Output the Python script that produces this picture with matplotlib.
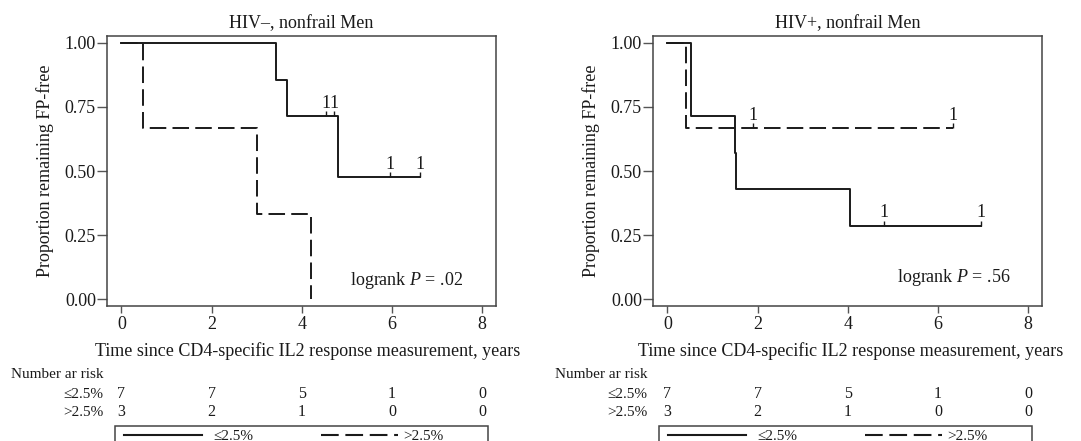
import numpy as np
import matplotlib
matplotlib.use("Agg")
from matplotlib import pyplot as plt
from matplotlib.lines import Line2D
from matplotlib.patches import Rectangle
from matplotlib.transforms import blended_transform_factory

plt.rcParams['font.family'] = ['Liberation Serif', 'DejaVu Serif']
plt.rcParams['mathtext.fontset'] = 'custom'
plt.rcParams['mathtext.rm'] = 'Liberation Serif'
plt.rcParams['mathtext.it'] = 'Liberation Serif:italic'

# ---- data ----
titles = ["HIV\u2013, nonfrail Men", "HIV+, nonfrail Men"]
pvalues = [".02", ".56"]
group_labels = ["\u22642.5%", ">2.5%"]

# HIV- panel
neg_low_t = [0, 3.44, 3.67, 4.80]
neg_low_s = [1.0, 0.857, 0.714, 0.476]
neg_low_end = 6.63
neg_low_cens_t = [4.53, 4.71, 5.96, 6.63]
neg_low_cens_s = [0.714, 0.714, 0.476, 0.476]

neg_high_t = [0, 0.48, 3.0, 4.21]
neg_high_s = [1.0, 0.667, 0.333, 0.0]
neg_high_end = 4.21
neg_high_cens_t = []
neg_high_cens_s = []

# HIV+ panel
pos_low_t = [0, 0.52, 1.50, 1.53, 4.05]
pos_low_s = [1.0, 0.714, 0.571, 0.429, 0.286]
pos_low_end = 6.95
pos_low_cens_t = [4.80, 6.95]
pos_low_cens_s = [0.286, 0.286]

pos_high_t = [0, 0.41]
pos_high_s = [1.0, 0.667]
pos_high_end = 6.33
pos_high_cens_t = [1.89, 6.33]
pos_high_cens_s = [0.667, 0.667]

risk_times = [0, 2, 4, 6, 8]
neg_risk_low = [7, 7, 5, 1, 0]
neg_risk_high = [3, 2, 1, 0, 0]
pos_risk_low = [7, 7, 5, 1, 0]
pos_risk_high = [3, 2, 1, 0, 0]

W, H = 1081, 441
fig = plt.figure(figsize=(W / 100, H / 100), dpi=100)

ink = '#1a1a1a'
dash = (0, (8.5, 3.2))


def fx(px):
    return px / W


def fy(py):
    return 1 - py / H


def curve(ax, t, s, end, ls):
    ax.step(list(t) + [end], list(s) + [s[-1]], where='post', color=ink, lw=1.4, ls=ls)


def censor(ax, t, s):
    for ti, si in zip(t, s):
        ax.plot([ti], [si], marker=2, ms=3.5, mew=1.0, color=ink)
        ax.annotate("1", (ti, si), xytext=(0, 6), textcoords='offset points',
                    ha='center', va='baseline', fontsize=13, color=ink)


panels = [
    dict(left=107, title=titles[0], p=pvalues[0], px=0.915, py=0.093, xl=0.517,
         curves=[(neg_low_t, neg_low_s, neg_low_end, '-', neg_low_cens_t, neg_low_cens_s),
                 (neg_high_t, neg_high_s, neg_high_end, dash, neg_high_cens_t, neg_high_cens_s)],
         risk=[neg_risk_low, neg_risk_high], off=0),
    dict(left=653, title=titles[1], p=pvalues[1], px=0.918, py=0.105, xl=0.507,
         curves=[(pos_low_t, pos_low_s, pos_low_end, '-', pos_low_cens_t, pos_low_cens_s),
                 (pos_high_t, pos_high_s, pos_high_end, dash, pos_high_cens_t, pos_high_cens_s)],
         risk=[pos_risk_low, pos_risk_high], off=544),
]

for pn in panels:
    ax = fig.add_axes([fx(pn['left']), fy(306), fx(389), 270 / H])
    for t, s, end, ls, ct, cs in pn['curves']:
        curve(ax, t, s, end, ls)
        censor(ax, ct, cs)

    ax.set_xlim(-0.32, 8.31)
    ax.set_ylim(-0.027, 1.027)
    ax.set_xticks([0, 2, 4, 6, 8])
    ax.set_yticks([0, 0.25, 0.5, 0.75, 1.0])
    ax.set_yticklabels(["0.00", "0.25", "0.50", "0.75", "1.00"])
    ax.tick_params(axis='y', length=7, width=1.0, color='#555555', labelsize=13, pad=1, labelcolor=ink)
    ax.tick_params(axis='x', length=5, width=1.0, color='#555555', labelsize=13, pad=2, labelcolor=ink)
    for sp in ax.spines.values():
        sp.set_color('#444444')
        sp.set_linewidth(1.1)

    ax.set_title(pn['title'], fontsize=13, color=ink, pad=6)
    ax.set_xlabel("Time since CD4-specific IL2 response measurement, years", fontsize=13, color=ink, labelpad=6)
    ax.xaxis.set_label_coords(pn['xl'], -0.135)
    ax.set_ylabel("Proportion remaining FP-free", fontsize=13, color=ink, labelpad=8)
    ax.text(pn['px'], pn['py'], "logrank $P$ = " + pn['p'], transform=ax.transAxes,
            ha='right', va='center', fontsize=13, color=ink)

    # number at risk table
    off = pn['off']
    tr = blended_transform_factory(ax.transData, fig.transFigure)
    fig.text(fx(11 + off), fy(374), "Number ar risk", ha='left', va='center', fontsize=11, color=ink)
    for row, (lab, vals) in enumerate(zip(group_labels, pn['risk'])):
        yy = fy(394 + 18 * row)
        fig.text(fx(103 + off), yy, lab, ha='right', va='center', fontsize=11, color=ink)
        for t, v in zip(risk_times, vals):
            ax.text(t, yy, str(v), transform=tr, ha='center', va='center', fontsize=11.5, color=ink)

    # legend box running off the bottom edge
    x0 = 115 + off
    fig.add_artist(Rectangle((fx(x0), fy(460)), fx(373), 34 / H, transform=fig.transFigure,
                             facecolor='white', edgecolor='#444444', lw=1.1, clip_on=False))
    ly = fy(435)
    fig.add_artist(Line2D([fx(x0 + 9), fx(x0 + 87)], [ly, ly], transform=fig.transFigure,
                          color=ink, lw=1.5, ls='-'))
    fig.add_artist(Line2D([fx(x0 + 206), fx(x0 + 283)], [ly, ly], transform=fig.transFigure,
                          color=ink, lw=1.5, ls=dash))
    fig.text(fx(x0 + 98), fy(436.5), group_labels[0], ha='left', va='center', fontsize=11, color=ink)
    fig.text(fx(x0 + 288), fy(436.5), group_labels[1], ha='left', va='center', fontsize=11, color=ink)

fig.savefig("out.png", dpi=100)
